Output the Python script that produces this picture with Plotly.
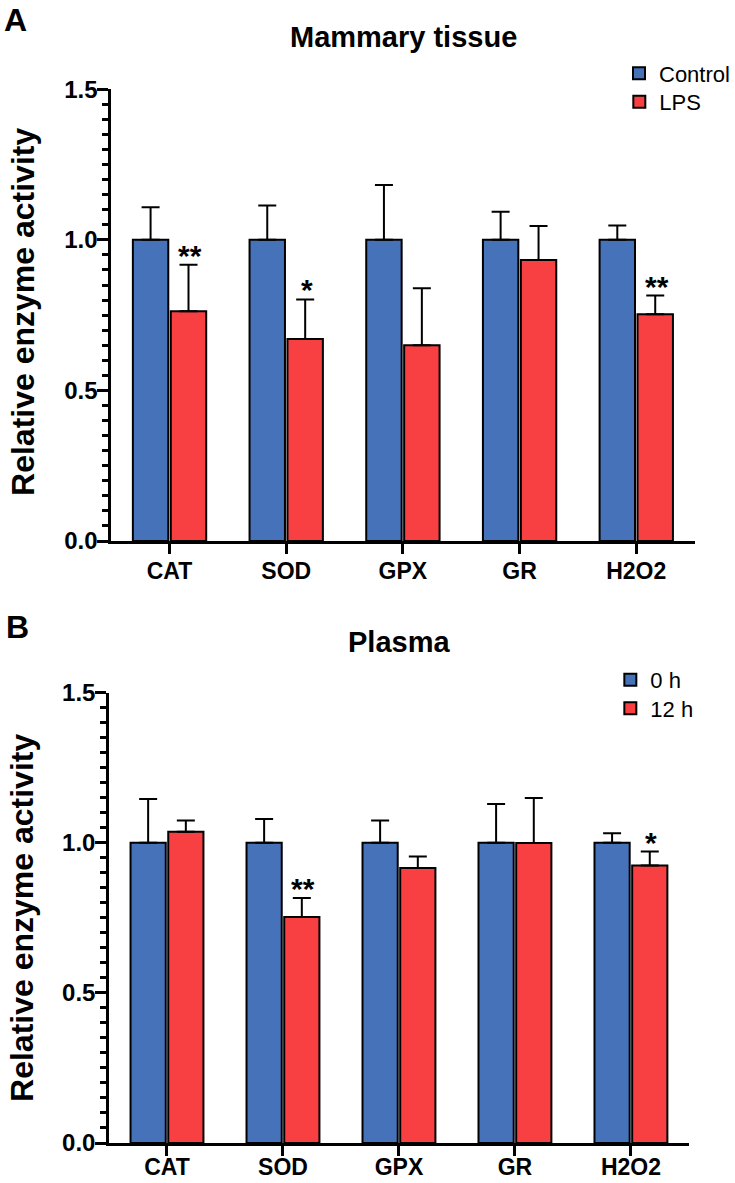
import plotly.graph_objects as go

categories = ["CAT", "SOD", "GPX", "GR", "H2O2"]

# Panel A: Mammary tissue
tissue_control = [1.0, 1.0, 1.0, 1.0, 1.0]
tissue_control_err = [0.108, 0.114, 0.182, 0.093, 0.048]
tissue_lps = [0.763, 0.671, 0.650, 0.933, 0.753]
tissue_lps_err = [0.154, 0.131, 0.189, 0.113, 0.062]
tissue_sig = ["**", "*", "", "", "**"]

# Panel B: Plasma
plasma_0h = [1.0, 1.0, 1.0, 1.0, 1.0]
plasma_0h_err = [0.146, 0.079, 0.074, 0.129, 0.032]
plasma_12h = [1.037, 0.753, 0.916, 0.999, 0.924]
plasma_12h_err = [0.037, 0.063, 0.038, 0.150, 0.047]
plasma_sig = ["", "**", "", "", "*"]

BLUE = "#4672B9"
RED = "#F84043"
FONT = "Arial, Liberation Sans, sans-serif"
W, H = 735, 1183

fig = go.Figure()

def bar(x, y, err, color, name, xa, ya, legend):
    return go.Bar(
        x=x, y=y, name=name, xaxis=xa, yaxis=ya, legend=legend,
        marker=dict(color=color, line=dict(color="black", width=2)),
        error_y=dict(type="data", array=err, arrayminus=[0] * len(err),
                     symmetric=False, color="black", thickness=2, width=9),
    )

fig.add_trace(bar(categories, tissue_control, tissue_control_err, BLUE, "Control", "x", "y", "legend"))
fig.add_trace(bar(categories, tissue_lps, tissue_lps_err, RED, "LPS", "x", "y", "legend2"))
fig.add_trace(bar(categories, plasma_0h, plasma_0h_err, BLUE, "0 h", "x2", "y2", "legend3"))
fig.add_trace(bar(categories, plasma_12h, plasma_12h_err, RED, "12 h", "x2", "y2", "legend4"))

def yaxis(domain, anchor):
    return dict(
        domain=domain, anchor=anchor, range=[0, 1.5], dtick=0.5, tickformat=".1f",
        showline=True, linecolor="black", linewidth=2.5,
        ticks="outside", ticklen=11, tickwidth=2.5, tickcolor="black",
        minor=dict(dtick=0.05, ticks="outside", ticklen=6, tickwidth=2.5, tickcolor="black"),
        showgrid=False, zeroline=False, automargin=False, ticklabelstandoff=-5,
        tickfont=dict(family=FONT, size=24, color="black", weight="bold"),
    )

def xaxis(domain, anchor, standoff):
    return dict(
        domain=domain, anchor=anchor, type="category", range=[-0.5, 4.5],
        showline=True, linecolor="black", linewidth=2.5,
        ticks="outside", ticklen=10, tickwidth=2.5, tickcolor="black",
        showgrid=False, zeroline=False, automargin=False, ticklabelstandoff=standoff,
        tickfont=dict(family=FONT, size=23, color="black", weight="bold"),
    )

def legend(xpx, ypx):
    return dict(x=xpx / W, y=1 - ypx / H, xanchor="left", yanchor="middle",
                font=dict(family=FONT, size=22, color="black"),
                bgcolor="rgba(0,0,0,0)", tracegroupgap=0)

fig.update_layout(
    width=W, height=H,
    margin=dict(l=0, r=0, t=0, b=0),
    paper_bgcolor="white", plot_bgcolor="white",
    barmode="group", bargap=0.35, bargroupgap=0.066,
    xaxis=xaxis([111.5 / W, 696.5 / W], "y", -2),
    yaxis=yaxis([1 - 541 / H, 1 - 89.3 / H], "x"),
    xaxis2=xaxis([109.3 / W, 690.8 / W], "y2", -8),
    yaxis2=yaxis([1 - 1143 / H, 1 - 692.7 / H], "x2"),
    legend=legend(621, 73.5),
    legend2=legend(621, 102),
    legend3=legend(612, 680),
    legend4=legend(612, 708.5),
    showlegend=True,
)

ann = []
def txt(text, x, y, size, **kw):
    d = dict(text=text, x=x, y=y, xref="paper", yref="paper", showarrow=False,
             xanchor="center", yanchor="middle",
             font=dict(family=FONT, size=size, color="black", weight="bold"))
    d.update(kw)
    ann.append(d)

txt("A", 16 / W, 1 - 20 / H, 32)
txt("B", 17.5 / W, 1 - 627 / H, 32)
txt("Mammary tissue", 405 / W, 1 - 37 / H, 29)
txt("Plasma", 400 / W, 1 - 642 / H, 29)
txt("Relative enzyme activity", 23 / W, 1 - 312 / H, 32, textangle=-90)
txt("Relative enzyme activity", 22 / W, 1 - 918 / H, 32, textangle=-90)

# significance marks above the treated-group error bars
for cat, m, e, s in zip(categories, tissue_lps, tissue_lps_err, tissue_sig):
    if s:
        ann.append(dict(text=s, x=cat, y=m + e, xref="x", yref="y", showarrow=False,
                        xanchor="center", yanchor="bottom", xshift=20.5, yshift=-9,
                        font=dict(family=FONT, size=30, color="black", weight="bold")))
for cat, m, e, s in zip(categories, plasma_12h, plasma_12h_err, plasma_sig):
    if s:
        ann.append(dict(text=s, x=cat, y=m + e, xref="x2", yref="y2", showarrow=False,
                        xanchor="center", yanchor="bottom", xshift=20.5, yshift=-9,
                        font=dict(family=FONT, size=30, color="black", weight="bold")))

fig.update_layout(annotations=ann)
fig.write_html("out.html", config={"displayModeBar": False},
               post_script="document.body.style.margin='0';")
